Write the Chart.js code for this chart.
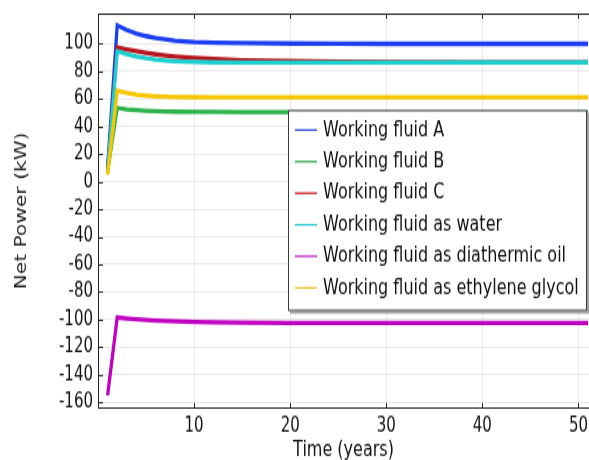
<!DOCTYPE html>
<html>
<head>
<meta charset="utf-8">
<script src="https://cdn.jsdelivr.net/npm/chart.js@4.4.1/dist/chart.umd.min.js"></script>
<style>
  html { margin: 0; padding: 0; background: #fff; overflow: hidden; }
  body { margin: 0; padding: 0; width: 589px; height: 460px; background: #fff; }
  /* the figure is drawn on a short canvas and stretched vertically */
  #wrap { width: 589px; height: 341px; transform: scaleY(1.349); transform-origin: 0 0; }
  canvas { display: block; }
</style>
</head>
<body>
<div id="wrap"><canvas id="chart" width="589" height="341"></canvas></div>
<script>
// time axis (years)
const years = [1, 2, 3, 4, 5, 6, 7, 8, 10, 12, 15, 20, 25, 30, 40, 51];
const xTickValues = [10, 20, 30, 40, 50];
const yTickValues = [-160, -140, -120, -100, -80, -60, -40, -20, 0, 20, 40, 60, 80, 100];

// net power (kW) per working fluid
const fluidA      = [10, 113.5, 110, 107.5, 105.6, 104.2, 103.2, 102.4, 101.4, 100.9, 100.5, 100.2, 100.1, 100, 100, 100];
const fluidB      = [7, 53.5, 52.4, 51.8, 51.4, 51.1, 50.9, 50.8, 50.7, 50.6, 50.5, 50.5, 50.5, 50.5, 50.5, 50.5];
const fluidC      = [8, 97.5, 96, 94.6, 93.4, 92.4, 91.6, 90.9, 89.8, 89.0, 88.2, 87.5, 87.1, 86.9, 86.7, 86.6];
const waterFluid  = [8, 94.7, 92.6, 90.9, 89.6, 88.6, 87.9, 87.4, 86.8, 86.5, 86.4, 86.4, 86.4, 86.4, 86.5, 86.5];
const oilFluid    = [-155, -98.5, -99.3, -99.9, -100.4, -100.8, -101.1, -101.3, -101.7, -102, -102.3, -102.5, -102.6, -102.6, -102.6, -102.6];
const glycolFluid = [5, 66, 64.3, 63.2, 62.5, 62, 61.7, 61.5, 61.3, 61.2, 61.1, 61.1, 61.1, 61.1, 61.1, 61.1];

const seriesLabels = [
    'Working fluid A',
    'Working fluid B',
    'Working fluid C',
    'Working fluid as water',
    'Working fluid as diathermic oil',
    'Working fluid as ethylene glycol',
];
const seriesValues = [fluidA, fluidB, fluidC, waterFluid, oilFluid, glycolFluid];
const lineColors   = ['#1c3ff0', '#2db34a', '#b8161e', '#1ecfcf', '#c000c0', '#f7c600'];
const legendColors = ['#2a48d8', '#2fa84a', '#cc2020', '#28c8d8', '#c020c8', '#f0c020'];

const FONT = '"DejaVu Sans", Verdana, sans-serif';
const AXIS = '#222';

// short inward tick marks and the top frame line
const frameTicks = {
    id: 'frameTicks',
    afterDatasetsDraw(chart) {
        const { ctx, chartArea: a, scales: { x, y } } = chart;
        ctx.save();
        ctx.strokeStyle = AXIS;
        ctx.lineWidth = 1;
        ctx.beginPath();
        ctx.moveTo(a.left, a.top + 0.5);
        ctx.lineTo(a.right, a.top + 0.5);
        x.ticks.forEach(t => {
            const px = Math.round(x.getPixelForValue(t.value)) + 0.5;
            ctx.moveTo(px, a.bottom);
            ctx.lineTo(px, a.bottom - 4);
            ctx.moveTo(px, a.top);
            ctx.lineTo(px, a.top + 4);
        });
        y.ticks.forEach(t => {
            const py = Math.round(y.getPixelForValue(t.value)) + 0.5;
            ctx.moveTo(a.left, py);
            ctx.lineTo(a.left + 5, py);
        });
        ctx.stroke();
        ctx.restore();
    }
};

// boxed legend with a drop shadow, inside the plot
const boxLegend = {
    id: 'boxLegend',
    afterDraw(chart, args, opts) {
        const { ctx } = chart;
        const { x, y, width, height, firstRow, rowHeight } = opts;
        ctx.save();
        ctx.fillStyle = '#a4a4a4';
        ctx.fillRect(x + 2, y + 2, width, height);
        ctx.fillStyle = '#fff';
        ctx.fillRect(x, y, width, height);
        ctx.strokeStyle = '#3a3a3a';
        ctx.lineWidth = 1;
        ctx.strokeRect(x + 0.5, y + 0.5, width - 1, height - 1);
        ctx.font = '16px ' + FONT;
        ctx.textBaseline = 'middle';
        ctx.textAlign = 'left';
        chart.data.datasets.forEach((ds, i) => {
            const cy = y + firstRow + i * rowHeight;
            ctx.strokeStyle = legendColors[i];
            ctx.lineWidth = 1.3;
            ctx.beginPath();
            ctx.moveTo(x + 7, cy);
            ctx.lineTo(x + 29, cy);
            ctx.stroke();
            ctx.fillStyle = '#111';
            ctx.fillText(ds.label, x + 35, cy);
        });
        ctx.restore();
    }
};

const datasets = seriesLabels.map((label, i) => ({
    label,
    data: years.map((t, k) => ({ x: t, y: seriesValues[i][k] })),
    borderColor: lineColors[i],
    backgroundColor: lineColors[i],
    borderWidth: 3.3,
    pointRadius: 0,
    tension: 0,
    fill: false,
    order: -i,
}));

new Chart(document.getElementById('chart'), {
    type: 'line',
    data: { datasets },
    plugins: [frameTicks, boxLegend],
    options: {
        responsive: false,
        animation: false,
        layout: { padding: { top: 10, right: 0, bottom: 0, left: 0 } },
        plugins: {
            legend: { display: false },
            tooltip: { enabled: false },
            boxLegend: { x: 288, y: 81.5, width: 299, height: 149, firstRow: 14.9, rowHeight: 23.4 },
        },
        scales: {
            x: {
                type: 'linear',
                min: 0,
                max: 51.1,
                afterBuildTicks: s => { s.ticks = xTickValues.map(v => ({ value: v })); },
                afterFit: s => { s.height = 38.3; s.paddingLeft = 0; s.paddingRight = 0; },
                ticks: { padding: 4, color: '#111', font: { family: FONT, size: 15 } },
                grid: { color: '#e9e9e9', drawTicks: false },
                border: { color: AXIS, width: 1 },
                title: {
                    display: true,
                    text: 'Time (years)',
                    color: '#111',
                    font: { family: FONT, size: 16 },
                    padding: { top: 0, bottom: -2.5 },
                },
            },
            y: {
                min: -164.5,
                max: 122,
                afterBuildTicks: s => { s.ticks = yTickValues.map(v => ({ value: v })); },
                afterFit: s => { s.width = 98; s.paddingTop = 0; s.paddingBottom = 0; },
                ticks: { padding: 5, color: '#111', font: { family: FONT, size: 15 } },
                grid: { color: '#e9e9e9', drawTicks: false },
                border: { color: AXIS, width: 1 },
                title: {
                    display: true,
                    text: 'Net Power (kW)',
                    color: '#222',
                    font: { family: FONT, size: 15 },
                    padding: { top: 13, bottom: 0 },
                },
            },
        },
    },
});
</script>
</body>
</html>
